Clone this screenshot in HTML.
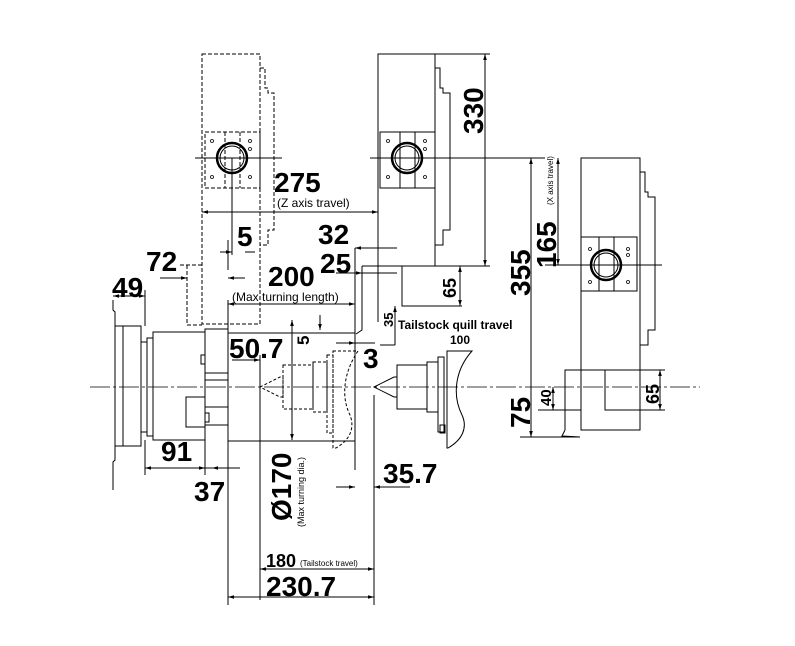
<!DOCTYPE html>
<html><head><meta charset="utf-8"><style>
html,body{margin:0;padding:0;background:#fff;}
svg{display:block;}
text{font-family:"Liberation Sans",Arial,sans-serif;fill:#000;}
.b{font-size:28px;font-weight:bold;}
.s{font-size:12px;}
.t{font-size:8px;}
</style></head><body>
<svg width="795" height="646" viewBox="0 0 795 646" xmlns="http://www.w3.org/2000/svg">
<defs>
<marker id="a" viewBox="0 0 10 10" refX="10" refY="5" markerWidth="6" markerHeight="6" orient="auto-start-reverse"><path d="M0,2 L10,5 L0,8 z" fill="#000"/></marker>
</defs>
<g fill="none" stroke="#000" stroke-width="1">
<line x1="90" y1="387" x2="700" y2="387" stroke-dasharray="20,3,3,3" stroke-width="0.8"/>

<!-- Turret 1 dashed -->
<g stroke-dasharray="4,2">
<rect x="202" y="54" width="58" height="270"/>
<polyline points="260,68 265,68 265,88 268,88 268,93 274,93 274,230 268,230 268,245 260,245"/>
<rect x="205" y="132" width="55" height="56"/>
<line x1="225" y1="132" x2="225" y2="188"/><line x1="240" y1="132" x2="240" y2="188"/>
<polyline points="180,265 202,265"/>
<polyline points="187,265 187,325 202,325"/>
</g>
<circle cx="232" cy="158" r="15" stroke-width="2.5"/>
<circle cx="232" cy="158" r="12"/>
<line x1="195" y1="158" x2="282" y2="158"/>
<line x1="232" y1="158" x2="232" y2="255"/>
<g stroke-width="0.8"><circle cx="212" cy="141" r="1.5"/><circle cx="250" cy="141" r="1.5"/><circle cx="250" cy="149" r="1.5"/><circle cx="212" cy="177" r="1.5"/><circle cx="250" cy="177" r="1.5"/></g>

<!-- Turret 2 -->
<rect x="378" y="54" width="57" height="212"/>
<polyline points="435,68 440,68 440,88 443,88 443,93 450,93 450,230 443,230 443,245 435,245"/>
<rect x="380" y="132" width="55" height="56"/>
<line x1="400" y1="132" x2="400" y2="188"/><line x1="415" y1="132" x2="415" y2="188"/>
<circle cx="407" cy="158" r="15" stroke-width="2.5"/>
<circle cx="407" cy="158" r="12"/>
<line x1="370" y1="158" x2="545" y2="158"/>
<g stroke-width="0.8"><circle cx="388" cy="141" r="1.5"/><circle cx="425" cy="141" r="1.5"/><circle cx="425" cy="149" r="1.5"/><circle cx="388" cy="177" r="1.5"/><circle cx="425" cy="177" r="1.5"/></g>
<polyline points="362,266 462,266"/>
<polyline points="402,266 402,306 462,306"/>
<polyline points="378,266 378,322"/>
<polyline points="362,266 362,330 356,334"/>
<line x1="435" y1="266" x2="490" y2="266"/>
<line x1="435" y1="54" x2="490" y2="54"/>

<line x1="485" y1="54" x2="485" y2="266" marker-start="url(#a)" marker-end="url(#a)"/>
<line x1="531" y1="158" x2="531" y2="437" marker-start="url(#a)" marker-end="url(#a)"/>
<line x1="558" y1="158" x2="558" y2="265" marker-start="url(#a)" marker-end="url(#a)"/>
<line x1="520" y1="437" x2="580" y2="437"/>
<line x1="538" y1="410" x2="581" y2="410"/>
<line x1="553" y1="387" x2="553" y2="410" marker-start="url(#a)" marker-end="url(#a)"/>

<!-- Turret 3 -->
<rect x="581" y="158" width="59" height="272"/>
<polyline points="640,172 645,172 645,192 648,192 648,197 655,197 655,330 648,330 648,345 640,345"/>
<rect x="581" y="237" width="56" height="54"/>
<line x1="599" y1="237" x2="599" y2="291"/><line x1="614" y1="237" x2="614" y2="291"/>
<circle cx="606" cy="265" r="15" stroke-width="2.5"/>
<circle cx="606" cy="265" r="12"/>
<line x1="545" y1="265" x2="662" y2="265"/>
<g stroke-width="0.8"><circle cx="590" cy="249" r="1.5"/><circle cx="628" cy="249" r="1.5"/><circle cx="628" cy="255" r="1.5"/><circle cx="590" cy="282" r="1.5"/><circle cx="628" cy="282" r="1.5"/></g>
<polyline points="565,430 565,370 665,370"/>
<polyline points="605,370 605,410 665,410"/>
<line x1="660" y1="370" x2="660" y2="410" marker-start="url(#a)" marker-end="url(#a)"/>
<path d="M565,430 L562,436 L580,437"/>

<!-- Spindle -->
<polyline points="113,300 113,310 115,312 115,460 113,462 113,490"/>
<rect x="115" y="326" width="26" height="120"/>
<line x1="123" y1="326" x2="123" y2="446"/>
<rect x="141" y="342" width="6" height="90"/>
<rect x="147" y="338" width="6" height="98"/>
<rect x="153" y="332" width="52" height="108"/>
<rect x="205" y="329" width="23" height="96"/>
<polyline points="205,397 186,397 186,427 205,427"/>
<rect x="201" y="355" width="4" height="9"/>
<rect x="205" y="413" width="4" height="9"/>
<line x1="205" y1="373" x2="228" y2="373"/>
<line x1="205" y1="380" x2="228" y2="380"/>
<line x1="205" y1="407" x2="228" y2="407"/>
<line x1="228" y1="333" x2="355" y2="333"/>
<line x1="228" y1="441" x2="355" y2="441"/>
<line x1="228" y1="300" x2="228" y2="605"/>
<line x1="355" y1="300" x2="355" y2="470"/>
<!-- Tailstock dashed -->
<g stroke-dasharray="3,2">
<path d="M260,387 L280,377 L283,377 L283,397 L280,397 Z"/>
<rect x="283" y="365" width="30" height="44"/>
<rect x="313" y="362" width="14" height="50"/>
<rect x="327" y="355" width="6" height="78"/>
<path d="M333,351 L358,351 C345,370 340,395 350,415 C355,428 350,440 336,448 L333,448 Z"/>
</g>
<!-- Tailstock solid -->
<path d="M374,387 L394,377 L397,377 L397,397 L394,397 Z"/>
<rect x="397" y="365" width="30" height="44"/>
<rect x="427" y="362" width="11" height="50"/>
<rect x="438" y="357" width="6" height="75"/>
<path d="M447,351 L472,351 C455,370 452,395 462,415 C468,428 462,440 448,448 L447,448 Z"/>
<rect x="440" y="425" width="5" height="8"/>

<!-- dims -->
<line x1="202" y1="212" x2="378" y2="212" marker-start="url(#a)" marker-end="url(#a)"/>
<line x1="220" y1="252" x2="232" y2="252" marker-end="url(#a)"/>
<line x1="245" y1="252" x2="255" y2="252"/>
<line x1="228" y1="240" x2="228" y2="270"/>
<line x1="160" y1="278" x2="187" y2="278" marker-end="url(#a)"/>
<line x1="228" y1="278" x2="245" y2="278" marker-start="url(#a)"/>
<line x1="113" y1="296" x2="145" y2="296" marker-start="url(#a)" marker-end="url(#a)"/>
<line x1="145" y1="290" x2="145" y2="326"/>
<line x1="228" y1="304" x2="355" y2="304" marker-start="url(#a)" marker-end="url(#a)"/>
<line x1="355" y1="248" x2="397" y2="248" marker-start="url(#a)"/>
<line x1="355" y1="248" x2="355" y2="330"/>
<line x1="336" y1="273" x2="397" y2="273"/>
<line x1="352" y1="273" x2="362" y2="273" marker-end="url(#a)"/>
<line x1="395" y1="306" x2="395" y2="345" marker-start="url(#a)"/>
<line x1="380" y1="345" x2="395" y2="345"/>
<line x1="460" y1="266" x2="460" y2="306" marker-start="url(#a)" marker-end="url(#a)"/>
<line x1="232" y1="360" x2="260" y2="360" marker-end="url(#a)"/>
<line x1="260" y1="355" x2="260" y2="600"/>
<line x1="292" y1="320" x2="292" y2="440" marker-start="url(#a)" marker-end="url(#a)"/>
<line x1="320" y1="315" x2="320" y2="330" marker-end="url(#a)"/>
<line x1="318" y1="333" x2="355" y2="333"/>
<line x1="336" y1="343" x2="355" y2="343" marker-end="url(#a)"/>
<line x1="355" y1="343" x2="375" y2="343"/>
<line x1="145" y1="468" x2="205" y2="468" marker-start="url(#a)" marker-end="url(#a)"/>
<line x1="145" y1="440" x2="145" y2="475"/>
<line x1="205" y1="425" x2="205" y2="475"/>
<line x1="205" y1="468" x2="240" y2="468"/>
<line x1="212" y1="468" x2="228" y2="468" marker-start="url(#a)"/>
<line x1="336" y1="487" x2="355" y2="487" marker-end="url(#a)"/>
<line x1="374" y1="487" x2="410" y2="487" marker-start="url(#a)"/>
<line x1="374" y1="395" x2="374" y2="605"/>
<line x1="260" y1="569" x2="374" y2="569" marker-start="url(#a)" marker-end="url(#a)"/>
<line x1="228" y1="597" x2="374" y2="597" marker-start="url(#a)" marker-end="url(#a)"/>
</g>

<text class="b" x="274" y="192">275</text>
<text class="s" x="277" y="207">(Z axis travel)</text>
<text class="b" x="237" y="246">5</text>
<text class="b" x="318" y="244">32</text>
<text class="b" x="146" y="271">72</text>
<text class="b" x="320" y="273">25</text>
<text class="b" x="268" y="286">200</text>
<text class="s" x="232" y="301">(Max turning length)</text>
<text class="b" x="112" y="297">49</text>
<text class="b" x="229" y="358">50.7</text>
<text class="b" x="363" y="368">3</text>
<text class="s" x="398" y="329" style="font-weight:bold">Tailstock quill travel</text>
<text class="s" x="450" y="344" style="font-weight:bold">100</text>
<text class="b" x="161" y="461">91</text>
<text class="b" x="194" y="501">37</text>
<text class="b" x="383" y="483">35.7</text>
<text class="b" x="266" y="567" style="font-size:18px">180</text>
<text class="t" x="300" y="566">(Tailstock travel)</text>
<text class="b" x="266" y="596">230.7</text>
<text class="b" transform="translate(291,521) rotate(-90)">Ø170</text>
<text class="t" transform="translate(304,527) rotate(-90)" style="font-size:9px">(Max turning dia.)</text>
<text class="s" transform="translate(309,345) rotate(-90)" style="font-size:17px;font-weight:bold">5</text>
<text class="s" transform="translate(393,327) rotate(-90)" style="font-size:13px;font-weight:bold">35</text>
<text class="s" transform="translate(456,298) rotate(-90)" style="font-size:18px;font-weight:bold">65</text>
<text class="b" transform="translate(483,134) rotate(-90)">330</text>
<text class="b" transform="translate(530,296) rotate(-90)">355</text>
<text class="b" transform="translate(556,268) rotate(-90)">165</text>
<text class="t" transform="translate(553,205) rotate(-90)">(X axis travel)</text>
<text class="b" transform="translate(530,428) rotate(-90)">75</text>
<text class="s" transform="translate(551,406) rotate(-90)" style="font-size:15px;font-weight:bold">40</text>
<text class="s" transform="translate(659,404) rotate(-90)" style="font-size:18px;font-weight:bold">65</text>
</svg>
</body></html>
